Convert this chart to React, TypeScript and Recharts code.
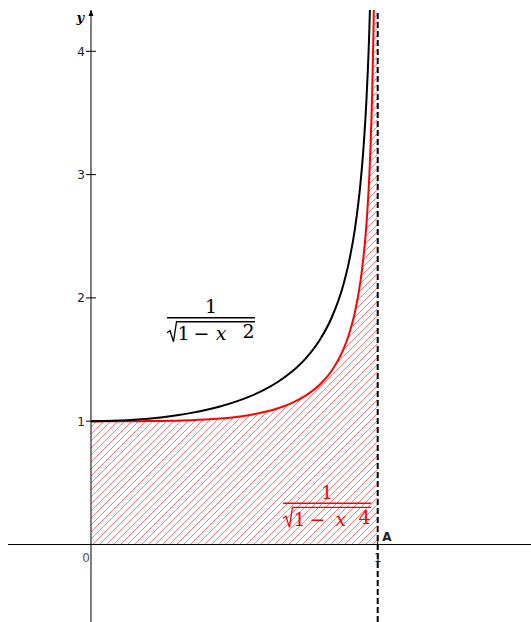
import {
  ComposedChart, Area, Line, XAxis, YAxis, ReferenceLine, ReferenceDot,
} from "recharts";

// sample abscissas and the two curves
const xs = [
  0, 0.05, 0.1, 0.15, 0.2, 0.25, 0.3, 0.35, 0.4, 0.45, 0.5, 0.55, 0.6, 0.65,
  0.7, 0.75, 0.8, 0.84, 0.88, 0.9, 0.92, 0.94, 0.95, 0.96, 0.97, 0.975, 0.98,
  0.985, 0.99, 0.995, 0.999,
];
const blackCurve = [
  1, 1.0013, 1.005, 1.0114, 1.0206, 1.0328, 1.0483, 1.0675, 1.0911, 1.1198,
  1.1547, 1.1974, 1.25, 1.3159, 1.4003, 1.5119, 1.6667, 1.843, 2.1054, 2.2942,
  2.5516, 2.9311, 3.2026, 3.5714, 4.1135, 4.5004, 5.0252, 5.7953, 7.0888,
  10.0125, 22.366,
];
const redCurve = [
  1, 1.0, 1.0001, 1.0003, 1.0008, 1.002, 1.0041, 1.0076, 1.0131, 1.0212,
  1.0328, 1.0492, 1.0719, 1.1033, 1.1472, 1.2095, 1.3015, 1.4112, 1.5805,
  1.7052, 1.8778, 2.1357, 2.3219, 2.5764, 2.9526, 3.2223, 3.5891, 4.1287,
  5.0377, 7.0977, 15.8233,
];
const yTicks = [1, 2, 3, 4];
const xTicks = [1];

const data = xs.map((x, i) => ({ x, f1: blackCurve[i], f2: redCurve[i] }));

const SERIF = "'DejaVu Serif', 'Liberation Serif', serif";
const SANS = "'DejaVu Sans', sans-serif";

// fraction 1 / sqrt(1 - x^n), centred on the fraction bar
function Formula({ cx, cy, color, exp, xOff }: {
  cx: number; cy: number; color: string; exp: string; xOff: number;
}) {
  const L = cx - 44;
  return (
    <g fill={color} fontFamily={SERIF} fontSize={19} textAnchor="middle">
      <text x={cx} y={cy - 4.5}>1</text>
      <line x1={L} x2={cx + 44} y1={cy} y2={cy} stroke={color} strokeWidth={1.4} />
      <path
        d={`M${L},${cy + 15} L${L + 3},${cy + 13} L${L + 6.5},${cy + 24} L${L + 9.5},${cy + 4} H${cx + 44}`}
        fill="none" stroke={color} strokeWidth={1.3}
      />
      <text x={L + 16.5} y={cy + 22.5}>1</text>
      <text x={L + 34.5} y={cy + 22.5}>−</text>
      <text x={L + xOff} y={cy + 22.5} fontStyle="italic">x</text>
      <text x={L + 81.5} y={cy + 20.5}>{exp}</text>
    </g>
  );
}

export default function App() {
  return (
    <div style={{ position: "absolute", left: 0, top: 0, background: "#fff" }}>
      <ComposedChart
        width={531}
        height={622}
        data={data}
        margin={{ top: 10, right: 0, left: 8, bottom: 0 }}
      >
        <defs>
          <pattern id="hatch" patternUnits="userSpaceOnUse" width={7} height={7}>
            <path d="M-1,1 l2,-2 M0,7 l7,-7 M6,8 l2,-2" stroke="#ff2020" strokeOpacity={0.6} strokeWidth={1} />
          </pattern>
        </defs>
        <XAxis dataKey="x" type="number" domain={[-0.2895, 1.5347]} allowDataOverflow hide />
        <YAxis type="number" domain={[-0.6285, 4.335]} allowDataOverflow hide />

        <Area
          dataKey="f2" type="monotone" baseValue={0}
          fill="url(#hatch)" fillOpacity={1} stroke="none"
          isAnimationActive={false}
        />
        <Line
          dataKey="f2" type="monotone" stroke="#ff0000" strokeWidth={2}
          dot={false} isAnimationActive={false}
        />
        <Line
          dataKey="f1" type="monotone" stroke="#000" strokeWidth={2}
          dot={false} isAnimationActive={false}
        />

        <ReferenceLine y={0} stroke="#000" strokeWidth={1} />
        <ReferenceLine x={0} stroke="#000" strokeWidth={1} />
        <ReferenceLine x={1} stroke="#000" strokeWidth={2} strokeDasharray="6 3" />

        {yTicks.map((t) => (
          <ReferenceDot
            key={`y${t}`} x={0} y={t} r={0}
            shape={(p: any) => (
              <g>
                <line x1={p.cx - 5} x2={p.cx + 5} y1={p.cy} y2={p.cy} stroke="#000" />
                <text x={p.cx - 6} y={p.cy + 4.5} textAnchor="end" fontFamily={SANS} fontSize={12} fill="#222">
                  {t}
                </text>
              </g>
            )}
          />
        ))}
        {xTicks.map((t) => (
          <ReferenceDot
            key={`x${t}`} x={t} y={0} r={0}
            shape={(p: any) => (
              <g>
                <line x1={p.cx} x2={p.cx} y1={p.cy - 5} y2={p.cy + 5} stroke="#000" />
                <text x={p.cx} y={p.cy + 17.5} textAnchor="middle" fontFamily={SANS} fontSize={12} fill="#222">
                  {t}
                </text>
                <text x={p.cx + 4.5} y={p.cy - 3.5} fontFamily={SANS} fontSize={12} fontWeight="bold" fill="#222">
                  A
                </text>
              </g>
            )}
          />
        ))}
        <ReferenceDot
          x={0} y={0} r={0}
          shape={(p: any) => (
            <text x={p.cx - 1} y={p.cy + 17.5} textAnchor="end" fontFamily={SANS} fontSize={12} fill="#555">
              0
            </text>
          )}
        />
        <ReferenceDot
          x={0} y={4.335} r={0} ifOverflow="visible"
          shape={(p: any) => (
            <g>
              <path d={`M${p.cx},${p.cy} L${p.cx - 2.5},${p.cy + 6} L${p.cx + 2.5},${p.cy + 6} Z`} fill="#000" />
              <text x={p.cx - 7} y={p.cy + 12} textAnchor="end" fontFamily={SERIF} fontStyle="italic" fontWeight="bold" fontSize={13} fill="#000">
                y
              </text>
            </g>
          )}
        />

        <ReferenceDot
          x={0.4186} y={1.839} r={0}
          shape={(p: any) => <Formula cx={p.cx} cy={p.cy} color="#000" exp="2" xOff={54} />}
        />
        <ReferenceDot
          x={0.823} y={0.334} r={0}
          shape={(p: any) => <Formula cx={p.cx} cy={p.cy} color="#ff0000" exp="4" xOff={58} />}
        />
      </ComposedChart>
    </div>
  );
}
